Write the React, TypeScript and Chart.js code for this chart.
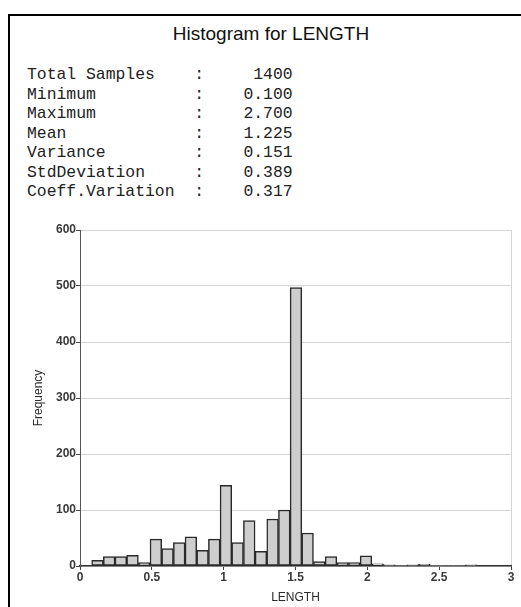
import { useEffect, useRef } from "react";
import { Chart, registerables } from "chart.js";

Chart.register(...registerables);

// Header and summary statistics
const TITLE = "Histogram for LENGTH";
const statLabels = ["Total Samples", "Minimum", "Maximum", "Mean", "Variance", "StdDeviation", "Coeff.Variation"];
const statValues = ["1400", "0.100", "2.700", "1.225", "0.151", "0.389", "0.317"];

// Histogram bins: bin i spans [(i + 1) * BIN_WIDTH, (i + 2) * BIN_WIDTH)
const BIN_WIDTH = 0.08125;
const binCounts = [
  10, 17, 17, 19, 6, 48, 31, 42, 52, 28, 48, 144, 42, 81, 26, 84, 100,
  497, 59, 8, 17, 6, 6, 18, 4, 2, 0, 2, 3, 0, 0, 0, 2,
];
const binCenters = binCounts.map((_, i) => (i + 1.5) * BIN_WIDTH);

// Axis ranges and labels
const X_MIN = 0;
const X_MAX = 3;
const X_STEP = 0.5;
const Y_MIN = 0;
const Y_MAX = 600;
const Y_STEP = 100;
const X_TITLE = "LENGTH";
const Y_TITLE = "Frequency";

const SANS = "Arial, 'Liberation Sans', sans-serif";
const MONO = "'Courier New', 'Liberation Mono', monospace";

function statLine(label: string, value: string): string {
  return label.padEnd(17) + ":" + value.padStart(9);
}

export default function App() {
  const canvasRef = useRef<HTMLCanvasElement | null>(null);

  useEffect(() => {
    const canvas = canvasRef.current;
    if (!canvas) return;

    const tickFont = { family: SANS, size: 12, weight: "bold" as const };

    const chart = new Chart(canvas, {
      type: "bar",
      data: {
        datasets: [
          {
            data: binCenters.map((x, i) => ({ x, y: binCounts[i] })),
            backgroundColor: "#cecece",
            borderColor: "#2a2a2a",
            borderWidth: (ctx: any) => (ctx.raw && ctx.raw.y > 0 ? 1.5 : 0),
            borderSkipped: false,
            barPercentage: 1,
            categoryPercentage: 1,
          },
        ],
      },
      options: {
        animation: false,
        responsive: false,
        devicePixelRatio: 1,
        layout: { padding: { top: 30, right: 10, left: 0, bottom: 0 } },
        plugins: {
          legend: { display: false },
          tooltip: { enabled: false },
        },
        scales: {
          x: {
            type: "linear",
            min: X_MIN,
            max: X_MAX,
            offset: false,
            afterFit: (scale: any) => {
              scale.height = 41;
            },
            ticks: {
              stepSize: X_STEP,
              padding: 0,
              color: "#3a3a3a",
              font: tickFont,
              maxRotation: 0,
              callback: (value: any) => String(Number(value)),
            },
            grid: {
              offset: false,
              drawOnChartArea: true,
              color: (ctx: any) => (ctx.tick && ctx.tick.value === X_MAX ? "#d4d4d4" : "rgba(0,0,0,0)"),
              tickColor: "#444444",
              tickLength: 4,
            },
            border: { color: "#333333", width: 1.5 },
            title: {
              display: true,
              text: X_TITLE,
              color: "#2a2a2a",
              font: { family: SANS, size: 12 },
              padding: { top: 0, bottom: 2 },
            },
          },
          y: {
            type: "linear",
            min: Y_MIN,
            max: Y_MAX,
            afterFit: (scale: any) => {
              scale.width = 80;
            },
            ticks: {
              stepSize: Y_STEP,
              padding: 0,
              color: "#3a3a3a",
              font: tickFont,
            },
            grid: {
              color: "#d4d4d4",
              tickColor: "#444444",
              tickLength: 4,
            },
            border: { color: "#555555", width: 1 },
            title: {
              display: true,
              text: Y_TITLE,
              color: "#2a2a2a",
              font: { family: SANS, size: 12 },
              padding: { top: 31, bottom: 0 },
            },
          },
        },
      },
    } as any);

    return () => chart.destroy();
  }, []);

  return (
    <div
      style={{
        position: "absolute",
        left: 0,
        top: 0,
        width: 521,
        height: 607,
        overflow: "hidden",
        background: "#ffffff",
      }}
    >
      <div
        style={{
          position: "absolute",
          left: 8,
          top: 14,
          width: 620,
          height: 700,
          border: "2px solid #000000",
        }}
      />
      <div
        style={{
          position: "absolute",
          left: 0,
          top: 24,
          width: 542,
          textAlign: "center",
          fontFamily: SANS,
          fontSize: 19,
          lineHeight: "19px",
          color: "#111111",
          whiteSpace: "nowrap",
        }}
      >
        {TITLE}
      </div>
      <div
        style={{
          position: "absolute",
          left: 27,
          top: 65,
          fontFamily: MONO,
          fontSize: "16.4px",
          lineHeight: "19.5px",
          color: "#222222",
          whiteSpace: "pre",
        }}
      >
        {statLabels.map((label, i) => (
          <div key={label}>{statLine(label, statValues[i])}</div>
        ))}
      </div>
      <canvas
        ref={canvasRef}
        width={521}
        height={407}
        style={{ position: "absolute", left: 0, top: 200, width: 521, height: 407 }}
      />
    </div>
  );
}
